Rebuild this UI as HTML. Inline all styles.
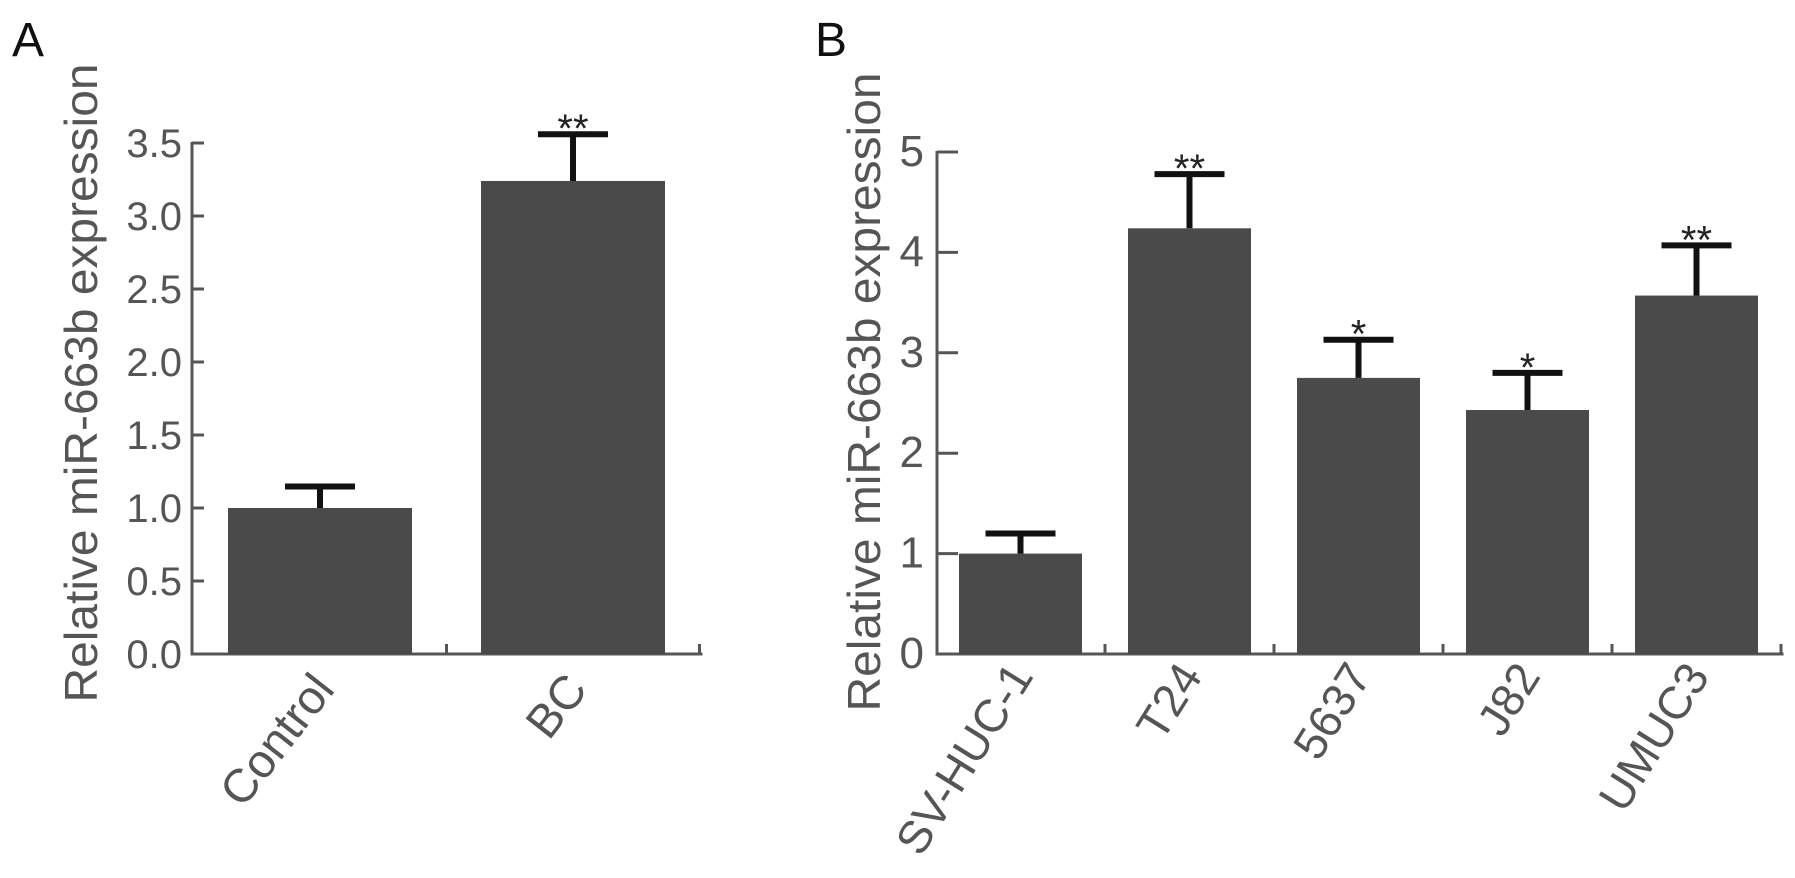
<!DOCTYPE html>
<html><head><meta charset="utf-8"><style>
html,body{margin:0;padding:0;background:#fff;}
svg{display:block;font-family:"Liberation Sans",Arial,sans-serif;}
</style></head><body>
<svg id="chart" width="1795" height="878" viewBox="0 0 1795 878" xmlns="http://www.w3.org/2000/svg">
<text x="12" y="56" font-size="48" fill="#111">A</text>
<text x="815" y="56" font-size="48" fill="#111">B</text>
<text transform="translate(97,383) rotate(-90)" text-anchor="middle" font-size="46" fill="#555" textLength="639" lengthAdjust="spacingAndGlyphs">Relative miR-663b expression</text>
<text transform="translate(880,392) rotate(-90)" text-anchor="middle" font-size="46" fill="#555" textLength="639" lengthAdjust="spacingAndGlyphs">Relative miR-663b expression</text>
<g id="pa"></g>
<g id="pb"></g>
</svg>
<script>
const catsA = ["Control", "BC"];
const valsA = [1.0, 3.24];
const errA = [1.147, 3.56];
const sigA = ["", "**"];
const ticksA = ["0.0","0.5","1.0","1.5","2.0","2.5","3.0","3.5"];
const tickValsA = [0,0.5,1,1.5,2,2.5,3,3.5];

const catsB = ["SV-HUC-1","T24","5637","J82","UMUC3"];
const valsB = [1.0, 4.24, 2.75, 2.43, 3.57];
const errB = [1.2, 4.78, 3.13, 2.80, 4.07];
const sigB = ["", "**", "*", "*", "**"];
const ticksB = ["0","1","2","3","4","5"];
const tickValsB = [0,1,2,3,4,5];

const NS = "http://www.w3.org/2000/svg";
function mk(parent, tag, attrs){
  const e = document.createElementNS(NS, tag);
  for (const k in attrs) e.setAttribute(k, attrs[k]);
  parent.appendChild(e);
  return e;
}

function panel(g, cfg, cats, vals, errs, sigs, ticks, tickVals){
  const y = v => cfg.y0 - v * cfg.pxPerUnit;
  const xStart = i => cfg.firstBar + i * cfg.step;
  const ax = mk(g, "line", {x1:cfg.ax, y1:y(cfg.ymax)-1, x2:cfg.ax, y2:cfg.y0+1.5, stroke:"#555", "stroke-width":3});
  
  
  const xl = mk(g, "line", {x1:cfg.ax-1.5, y1:cfg.y0, x2:cfg.xend+1.5, y2:cfg.y0, stroke:"#555", "stroke-width":3});
  
  
  tickVals.forEach((v,i)=>{
    const t = mk(g, "line", {x1:cfg.ax, y1:y(v), x2:cfg.ax+cfg.tickLen, y2:y(v), stroke:"#555", "stroke-width":3});
    
    
    const lb = mk(g, "text", {x:cfg.labelRight, y:y(v)+14, "text-anchor":"end", "font-size":cfg.tickFont, fill:"#555"});
    lb.textContent = ticks[i];
    
    
  });
  cats.forEach((c,i)=>{
    const tx = xStart(i) + cfg.barW + (cfg.step - cfg.barW)/2;
    const t = mk(g, "line", {x1:tx, y1:cfg.y0, x2:tx, y2:cfg.y0-10, stroke:"#555", "stroke-width":3});
    
    
  });
  cats.forEach((c,i)=>{
    const x0 = xStart(i), cx = x0 + cfg.barW/2;
    const b = mk(g, "rect", {x:x0, y:y(vals[i]), width:cfg.barW, height:cfg.y0 - y(vals[i]), fill:"#4a4a4a"});
    
    
    const st = mk(g, "line", {x1:cx, y1:y(vals[i]), x2:cx, y2:y(errs[i]), stroke:"#111", "stroke-width":6});
    
    
    const cap = mk(g, "line", {x1:cx-cfg.capW/2, y1:y(errs[i]), x2:cx+cfg.capW/2, y2:y(errs[i]), stroke:"#111", "stroke-width":6});
    
    
    if (sigs[i]) {
      const s = mk(g, "text", {x:cx, y:y(errs[i])+8, "text-anchor":"middle", "font-size":40, fill:"#222"});
      s.textContent = sigs[i];
      
      
    }
    const lx = cx + cfg.lblDx, ly = cfg.y0 + cfg.lblDy;
    const lb = mk(g, "text", {x:0, y:0, "text-anchor":"end", "font-size":cfg.lblFont, fill:"#555", transform:"translate("+lx+","+ly+") rotate("+cfg.angle+")"});
    lb.textContent = c;
    
    
  });
}

panel(document.getElementById("pa"),
  {ax:192, y0:654, pxPerUnit:146, ymax:3.5, xend:701, firstBar:228, step:253, barW:184, capW:70, tickLen:12, labelRight:182, tickFont:40, lblDx:16, lblDy:36, angle:-52, lblFont:47},
  catsA, valsA, errA, sigA, ticksA, tickValsA);
panel(document.getElementById("pb"),
  {ax:937, y0:654, pxPerUnit:100.4, ymax:5, xend:1782, firstBar:959, step:169, barW:123, capW:70, tickLen:21, labelRight:924, tickFont:44, lblDx:14, lblDy:22, angle:-58, lblFont:46},
  catsB, valsB, errB, sigB, ticksB, tickValsB);
</script>
</body></html>
